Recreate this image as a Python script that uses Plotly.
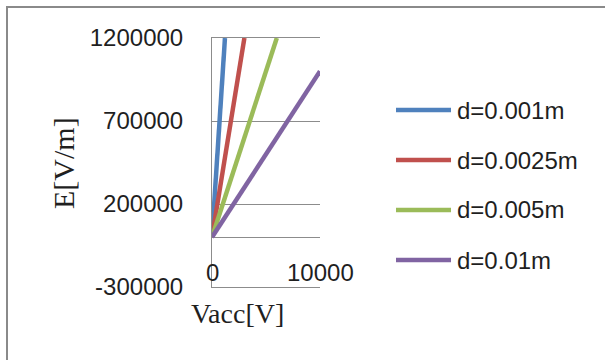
import plotly.graph_objects as go

# ---- data ----
series_names = ["d=0.001m", "d=0.0025m", "d=0.005m", "d=0.01m"]
series_colors = ["#4F81BD", "#C0504D", "#9BBB59", "#8064A2"]
v_blue = [0, 1200]
e_blue = [0, 1200000]
v_red = [0, 3000]
e_red = [0, 1200000]
v_green = [0, 6000]
e_green = [0, 1200000]
v_purple = [0, 10000]
e_purple = [0, 1000000]
y_ticks = [-300000, 200000, 700000, 1200000]
x_ticks = [0, 10000]
x_title = "Vacc[V]"
y_title = "E[V/m]"

W, H = 605, 360
PL, PR, PT, PB = 212, 320, 38, 287


def px(x):
    return (x - PL) / (PR - PL)


def py(y):
    return (PB - y) / (PB - PT)


GRID = "#8C8C8C"
TXT = "#1F1F1F"
SANS = "Liberation Sans"
SERIF = "Liberation Serif"

fig = go.Figure()
xs = [v_blue, v_red, v_green, v_purple]
ys = [e_blue, e_red, e_green, e_purple]
for name, col, xv, yv in zip(series_names, series_colors, xs, ys):
    fig.add_trace(go.Scatter(x=xv, y=yv, mode="lines", name=name,
                             line=dict(color=col, width=4.5), showlegend=False))

fig.update_layout(
    width=W, height=H,
    margin=dict(l=PL, r=W - PR, t=PT, b=H - PB),
    paper_bgcolor="white", plot_bgcolor="white",
    xaxis=dict(range=[x_ticks[0], x_ticks[-1]], showgrid=False, zeroline=False,
               showline=True, mirror=True, linecolor=GRID, linewidth=1,
               showticklabels=False, ticks=""),
    yaxis=dict(range=[y_ticks[0], y_ticks[-1]], tickvals=y_ticks,
               ticktext=[str(v) for v in y_ticks],
               showgrid=True, gridcolor=GRID, gridwidth=1,
               zeroline=True, zerolinecolor=GRID, zerolinewidth=1,
               showline=True, linecolor=GRID, linewidth=1,
               ticks="", ticklabelstandoff=23,
               tickfont=dict(family=SANS, size=24, color=TXT)),
)

annotations = []
for v in x_ticks:
    annotations.append(dict(x=v, y=py(272), xref="x", yref="paper", text=str(v),
                            showarrow=False, xanchor="center", yanchor="middle",
                            font=dict(family=SANS, size=24, color=TXT)))
annotations.append(dict(x=px(237), y=py(313), xref="paper", yref="paper", text=x_title,
                        showarrow=False, xanchor="center", yanchor="middle",
                        font=dict(family=SERIF, size=28, color=TXT)))
annotations.append(dict(x=px(63), y=py(163), xref="paper", yref="paper", text=y_title,
                        showarrow=False, xanchor="center", yanchor="middle", textangle=-90,
                        font=dict(family=SERIF, size=30, color=TXT)))

shapes = []
leg_y = [110, 160, 210, 260]
for name, col, ly in zip(series_names, series_colors, leg_y):
    shapes.append(dict(type="line", xref="paper", yref="paper",
                       x0=px(396), x1=px(451), y0=py(ly), y1=py(ly),
                       line=dict(color=col, width=4.5)))
    annotations.append(dict(x=px(455), y=py(ly), xref="paper", yref="paper", text=name,
                            showarrow=False, xanchor="left", yanchor="middle",
                            font=dict(family=SANS, size=24, color=TXT)))

# outer chart border (cut off at right and bottom)
shapes.append(dict(type="rect", xref="paper", yref="paper",
                   x0=px(7), x1=px(W + 10), y0=py(H + 10), y1=py(7),
                   line=dict(color="#8A8A8A", width=2), fillcolor="rgba(0,0,0,0)"))

fig.update_layout(annotations=annotations, shapes=shapes)
fig.write_html("out.html")
